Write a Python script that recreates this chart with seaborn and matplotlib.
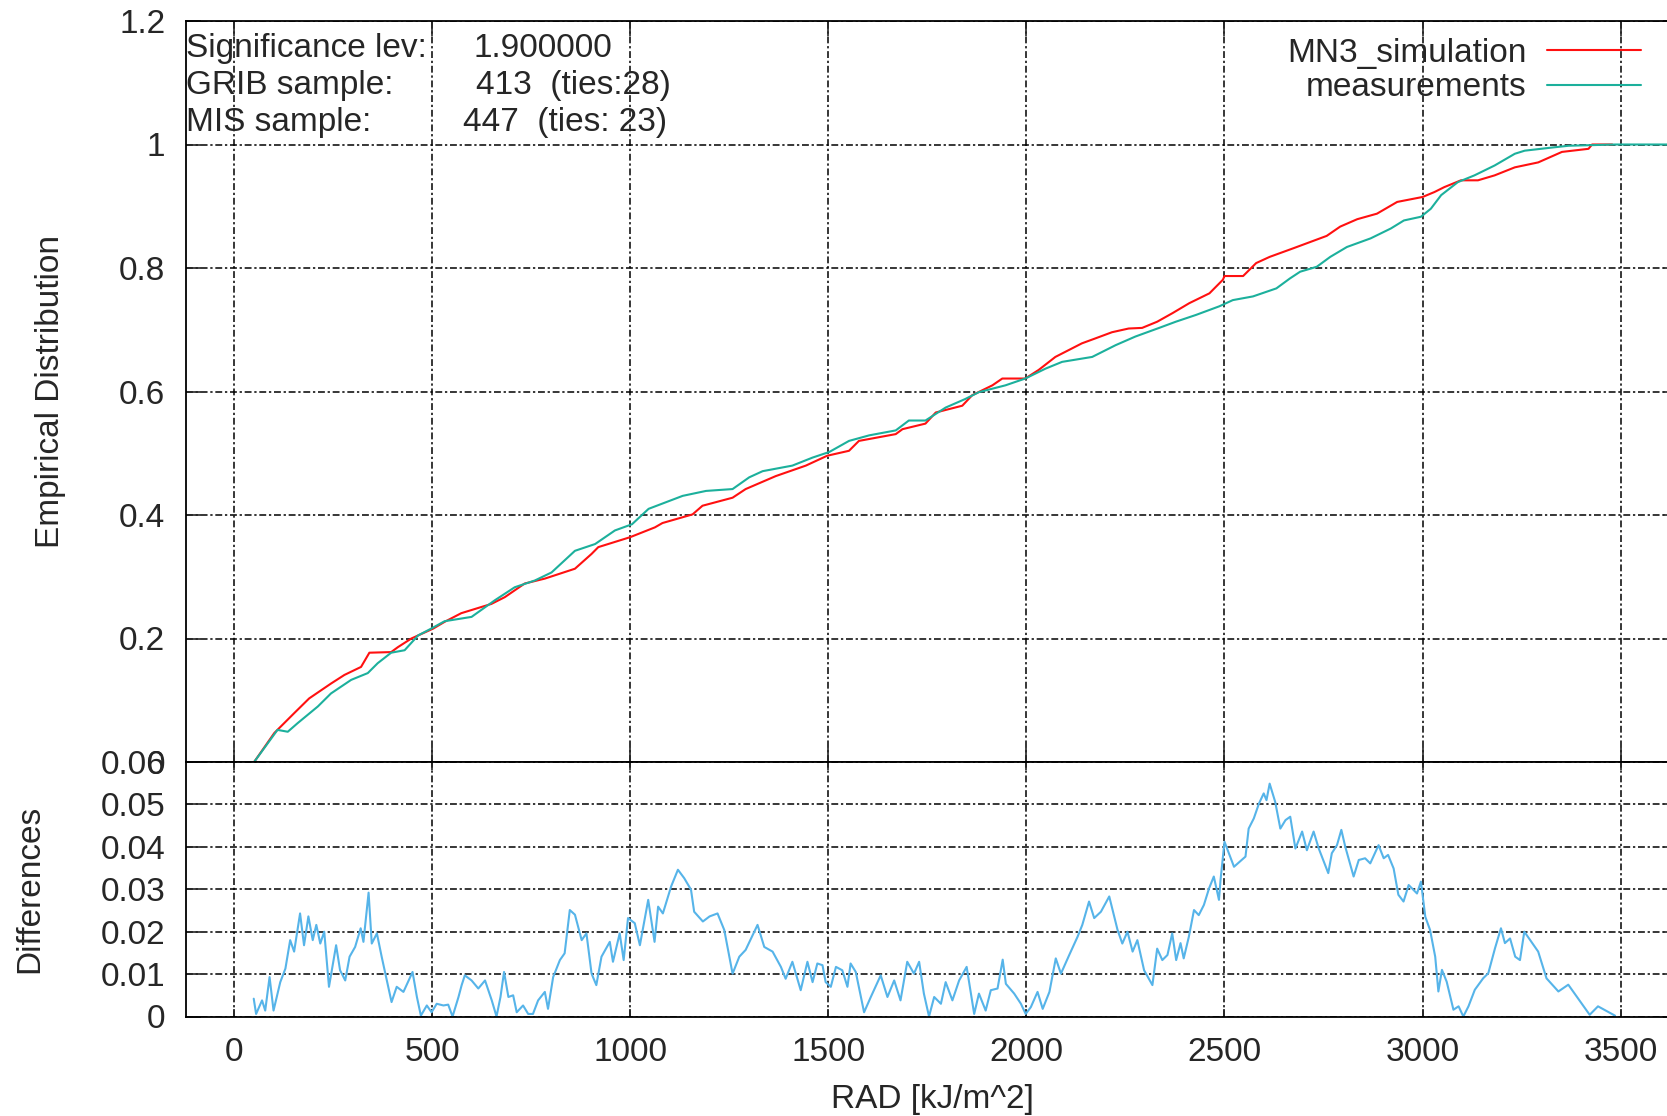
import matplotlib
matplotlib.use("Agg")
import matplotlib.pyplot as plt
import seaborn as sns

# --- empirical distributions (RAD value, cumulative share) ---
sim_rad = [50, 101, 151, 189, 244, 278, 320, 341, 396, 413, 447, 502, 531, 573, 649, 683,
           733, 784, 860, 902, 919, 999, 1062, 1081, 1157, 1182, 1258, 1291, 1367, 1443, 1497,
           1552, 1577, 1670, 1687, 1745, 1771, 1838, 1863, 1914, 1939, 1997, 2031, 2073, 2140,
           2174, 2216, 2258, 2292, 2330, 2369, 2411, 2462, 2496, 2500, 2547, 2580, 2614, 2674,
           2716, 2758, 2792, 2835, 2885, 2936, 3000, 3030, 3055, 3097, 3140, 3182, 3233, 3292,
           3352, 3419, 3428, 3479]
sim_cdf = [0.0, 0.047, 0.079, 0.103, 0.127, 0.141, 0.154, 0.177, 0.178, 0.186, 0.2, 0.216,
           0.227, 0.241, 0.256, 0.267, 0.289, 0.297, 0.313, 0.337, 0.348, 0.364, 0.38, 0.387,
           0.401, 0.415, 0.428, 0.442, 0.463, 0.48, 0.496, 0.504, 0.52, 0.531, 0.539, 0.548,
           0.566, 0.577, 0.594, 0.61, 0.621, 0.621, 0.635, 0.656, 0.678, 0.686, 0.696, 0.702,
           0.703, 0.713, 0.727, 0.743, 0.759, 0.781, 0.787, 0.787, 0.808, 0.818, 0.832, 0.842,
           0.852, 0.867, 0.879, 0.888, 0.907, 0.915, 0.923, 0.931, 0.942, 0.942, 0.95, 0.963,
           0.971, 0.988, 0.993, 1.0, 1.0]

meas_rad = [50, 109, 135, 160, 211, 244, 295, 337, 362, 396, 430, 464, 497, 531, 599, 658,
            708, 759, 801, 860, 911, 961, 1004, 1046, 1132, 1191, 1258, 1300, 1334, 1409, 1460,
            1502, 1552, 1603, 1670, 1703, 1745, 1796, 1846, 1880, 1947, 1997, 2048, 2090, 2166,
            2225, 2275, 2335, 2377, 2428, 2487, 2521, 2572, 2631, 2665, 2691, 2733, 2767, 2809,
            2869, 2920, 2953, 2996, 3021, 3047, 3089, 3131, 3182, 3233, 3258, 3326, 3369, 3488,
            3645]
meas_cdf = [0.0, 0.052, 0.049, 0.063, 0.09, 0.111, 0.133, 0.144, 0.16, 0.177, 0.181, 0.205,
            0.216, 0.228, 0.235, 0.262, 0.283, 0.294, 0.307, 0.342, 0.353, 0.375, 0.385, 0.41,
            0.431, 0.439, 0.442, 0.461, 0.471, 0.48, 0.493, 0.502, 0.52, 0.529, 0.537, 0.553,
            0.553, 0.574, 0.588, 0.599, 0.61, 0.621, 0.637, 0.648, 0.656, 0.675, 0.689, 0.703,
            0.713, 0.724, 0.738, 0.748, 0.754, 0.767, 0.783, 0.794, 0.802, 0.818, 0.834, 0.848,
            0.864, 0.877, 0.883, 0.896, 0.918, 0.939, 0.95, 0.966, 0.985, 0.99, 0.995, 0.998,
            1.0, 1.0]

# --- absolute differences between the two distributions ---
diff_rad = [49, 55, 70, 78, 89, 99, 116, 129, 141, 151, 166, 176, 187, 198, 207, 217, 227,
            239, 257, 267, 280, 291, 305, 319, 326, 339, 347, 360, 372, 385, 397, 410, 427,
            450, 461, 471, 486, 498, 511, 528, 540, 551, 566, 574, 582, 599, 616, 633, 650,
            662, 672, 681, 692, 704, 713, 729, 742, 754, 767, 784, 792, 805, 822, 834, 847,
            860, 877, 889, 902, 914, 927, 948, 956, 973, 983, 994, 1011, 1024, 1045, 1061,
            1070, 1082, 1103, 1120, 1136, 1153, 1161, 1183, 1200, 1220, 1237, 1258, 1275,
            1291, 1321, 1338, 1359, 1380, 1392, 1409, 1430, 1447, 1460, 1472, 1485, 1493,
            1506, 1519, 1535, 1548, 1556, 1569, 1590, 1607, 1632, 1649, 1666, 1682, 1699,
            1716, 1729, 1741, 1754, 1767, 1784, 1796, 1813, 1830, 1849, 1868, 1880, 1897,
            1910, 1927, 1940, 1948, 1969, 1986, 1998, 2011, 2028, 2041, 2058, 2074, 2087,
            2108, 2129, 2141, 2158, 2171, 2188, 2209, 2230, 2242, 2255, 2268, 2280, 2297,
            2318, 2330, 2343, 2356, 2368, 2378, 2389, 2397, 2410, 2423, 2435, 2448, 2461,
            2473, 2486, 2490, 2500, 2511, 2524, 2553, 2561, 2574, 2587, 2599, 2606, 2614,
            2628, 2641, 2654, 2666, 2679, 2696, 2708, 2725, 2738, 2762, 2771, 2784, 2795,
            2805, 2826, 2839, 2855, 2868, 2889, 2902, 2913, 2927, 2939, 2952, 2965, 2986,
            2996, 3007, 3019, 3032, 3040, 3049, 3061, 3078, 3091, 3103, 3116, 3132, 3153,
            3166, 3183, 3198, 3208, 3221, 3234, 3246, 3257, 3292, 3313, 3343, 3368, 3422,
            3443, 3486]
diff_val = [0.0042, 0.0006, 0.0038, 0.0014, 0.0093, 0.0014, 0.0081, 0.0113, 0.018, 0.0153,
            0.0243, 0.0168, 0.0236, 0.018, 0.0216, 0.0172, 0.02, 0.007, 0.0168, 0.0109,
            0.0085, 0.0141, 0.0164, 0.0208, 0.0176, 0.0292, 0.0172, 0.0196, 0.0141, 0.0085,
            0.0034, 0.007, 0.0058, 0.0105, 0.0046, 0.0002, 0.0026, 0.001, 0.003, 0.0026,
            0.0028, 0.0, 0.0046, 0.0074, 0.0097, 0.0085, 0.0066, 0.0085, 0.0038, 0.0, 0.0046,
            0.0105, 0.0046, 0.005, 0.001, 0.0026, 0.0006, 0.0006, 0.0038, 0.0058, 0.0018,
            0.0093, 0.0133, 0.0149, 0.0251, 0.024, 0.018, 0.0196, 0.0101, 0.0074, 0.0141,
            0.0176, 0.0129, 0.0196, 0.0133, 0.0232, 0.022, 0.0168, 0.0275, 0.0176, 0.0259,
            0.0243, 0.0307, 0.0346, 0.0326, 0.0299, 0.0247, 0.0224, 0.0236, 0.0243, 0.0204,
            0.0101, 0.0141, 0.0157, 0.0216, 0.0164, 0.0153, 0.0117, 0.0089, 0.0129, 0.0062,
            0.0129, 0.0081, 0.0125, 0.0121, 0.0081, 0.007, 0.0117, 0.0109, 0.007, 0.0125,
            0.0105, 0.001, 0.0046, 0.0097, 0.0046, 0.0085, 0.0038, 0.0129, 0.0101, 0.0129,
            0.0054, 0.0, 0.0046, 0.003, 0.0081, 0.0038, 0.0085, 0.0117, 0.0006, 0.0054,
            0.0014, 0.0062, 0.0066, 0.0134, 0.0077, 0.0054, 0.003, 0.0006, 0.0022, 0.0058,
            0.0018, 0.0058, 0.0137, 0.0101, 0.0145, 0.0188, 0.0216, 0.0271, 0.0232, 0.0247,
            0.0283, 0.0204, 0.0172, 0.02, 0.0153, 0.018, 0.0109, 0.0074, 0.016, 0.0133,
            0.0145, 0.0196, 0.0133, 0.0173, 0.0137, 0.0188, 0.0251, 0.0239, 0.0263, 0.0302,
            0.033, 0.0275, 0.0322, 0.0412, 0.0385, 0.0353, 0.0377, 0.0443, 0.0467, 0.0502,
            0.0526, 0.051, 0.0549, 0.0506, 0.0443, 0.0463, 0.0471, 0.0396, 0.0436, 0.0392,
            0.0436, 0.0396, 0.0338, 0.0385, 0.0404, 0.044, 0.04, 0.033, 0.0369, 0.0373,
            0.0361, 0.0404, 0.0373, 0.0381, 0.0349, 0.0287, 0.0271, 0.031, 0.029, 0.0318,
            0.0235, 0.0204, 0.0141, 0.0059, 0.011, 0.0082, 0.0016, 0.0024, 0.0, 0.0024,
            0.0063, 0.009, 0.0102, 0.0161, 0.0208, 0.0173, 0.0184, 0.0141, 0.0133, 0.02,
            0.0153, 0.009, 0.0059, 0.0075, 0.0004, 0.0024, 0.0002]

x_ticks = [0, 500, 1000, 1500, 2000, 2500, 3000, 3500]
x_labels = ["0", "500", "1000", "1500", "2000", "2500", "3000", "3500"]
cdf_ticks = [0, 0.2, 0.4, 0.6, 0.8, 1.0, 1.2]
cdf_labels = ["0", "0.2", "0.4", "0.6", "0.8", "1", "1.2"]
diff_ticks = [0, 0.01, 0.02, 0.03, 0.04, 0.05, 0.06]
diff_labels = ["0", "0.01", "0.02", "0.03", "0.04", "0.05", "0.06"]

info_rows = [("Significance lev:", "1.900000"),
             ("GRIB sample:", "413  (ties:28)"),
             ("MIS sample:", "447  (ties: 23)")]

sns.set_style("white")
plt.rcParams['font.family'] = ['Liberation Sans', 'DejaVu Sans']
plt.rcParams['font.size'] = 24

W, H = 1667, 1116
fig = plt.figure(figsize=(W / 100, H / 100), dpi=100)

# the plot area runs past the right border of the picture, like the original
left_px, right_px = 186, 1678
top_px, mid_px, bot_px = 21, 762, 1016.5
ax1 = fig.add_axes([left_px / W, 1 - mid_px / H, (right_px - left_px) / W, (mid_px - top_px) / H])
ax2 = fig.add_axes([left_px / W, 1 - bot_px / H, (right_px - left_px) / W, (bot_px - mid_px) / H],
                   sharex=ax1)

grid_kw = dict(color='black', linestyle=(0, (4.5, 1.8, 1.5, 1.8)), linewidth=1.1)

sns.lineplot(x=sim_rad, y=sim_cdf, ax=ax1, color='#ff1010', linewidth=1.5,
             sort=False, estimator=None, label='MN3_simulation')
sns.lineplot(x=meas_rad, y=meas_cdf, ax=ax1, color='#1cb09c', linewidth=1.5,
             sort=False, estimator=None, label='measurements')
sns.lineplot(x=diff_rad, y=diff_val, ax=ax2, color='#56b4e9', linewidth=1.5,
             sort=False, estimator=None, legend=False)

ax1.set_xlim(-122, 3645)
ax1.set_ylim(0, 1.2)
ax2.set_ylim(0, 0.06)

for ax in (ax1, ax2):
    ax.set_axisbelow(True)
    ax.grid(True, **grid_kw)
    for sp in ax.spines.values():
        sp.set_color('black')
        sp.set_linewidth(1.3)
    ax.set_xlabel('')
    ax.set_ylabel('')

ax1.set_yticks(cdf_ticks)
ax1.set_yticklabels(cdf_labels)
ax2.set_yticks(diff_ticks)
ax2.set_yticklabels(diff_labels)
ax2.set_xticks(x_ticks)
ax2.set_xticklabels(x_labels)

ax1.tick_params(axis='x', direction='in', length=11, width=1.2, top=True, bottom=True,
                labelbottom=False)
ax1.tick_params(axis='y', direction='in', length=11, width=1.2, left=True, right=True,
                labelsize=24, pad=15)
ax2.tick_params(axis='x', direction='in', length=6, width=1.2, top=True, bottom=True,
                labelsize=24, pad=14.5)
ax2.tick_params(axis='y', direction='in', length=11, width=1.2, left=True, right=True,
                labelsize=24, pad=15)

ax1.set_ylabel('Empirical Distribution', fontsize=24)
ax1.yaxis.set_label_coords((66 - left_px) / (right_px - left_px), 0.5)
ax2.set_ylabel('Differences', fontsize=24)
ax2.yaxis.set_label_coords((45 - left_px) / (right_px - left_px), 0.5)
ax2.set_xlabel('RAD [kJ/m^2]', fontsize=24)
ax2.xaxis.set_label_coords(0.5, (bot_px - 1084) / (bot_px - mid_px))

ax1.legend(loc='upper right', bbox_to_anchor=(1641 / W, 1 - 38 / H),
           bbox_transform=fig.transFigure, frameon=False, borderpad=0, borderaxespad=0,
           handlelength=2.83, handletextpad=0.6, labelspacing=0.1, markerfirst=False,
           fontsize=24)

# statistics box in the top left corner
baselines = [57, 94, 131]
value_x = [473, 476, 463]
for (name, value), base, vx in zip(info_rows, baselines, value_x):
    fig.text(left_px / W, 1 - base / H, name, fontsize=24, va='baseline', ha='left')
    fig.text(vx / W, 1 - base / H, value, fontsize=24, va='baseline', ha='left')

fig.savefig('out.png', dpi=100)
